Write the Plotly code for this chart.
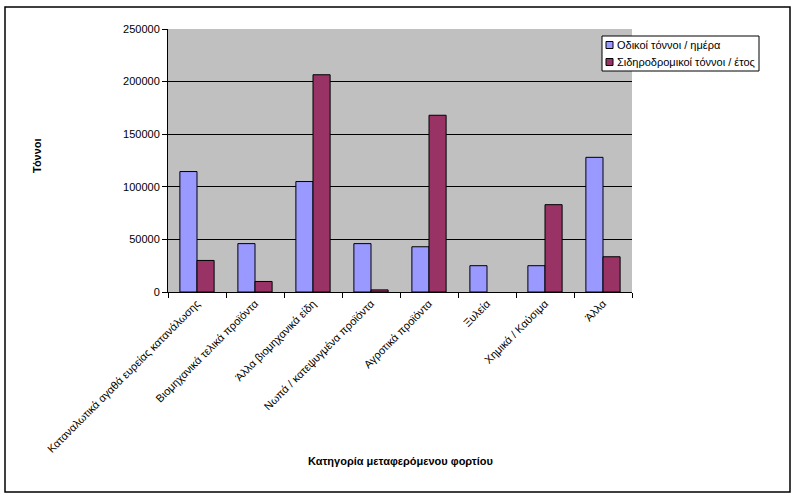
import plotly.graph_objects as go

# cargo categories and tonnage
categories = [
    "Καταναλωτικά αγαθά ευρείας κατανάλωσης",
    "Βιομηχανικά τελικά προϊόντα",
    "Άλλα βιομηχανικά είδη",
    "Νωπά / κατεψυγμένα προϊόντα",
    "Αγροτικά προϊόντα",
    "Ξυλεία",
    "Χημικά / Καύσιμα",
    "Άλλα",
]
road_tons = [114500, 46000, 105000, 46000, 43000, 25000, 25000, 128000]
rail_tons = [30000, 10000, 206500, 2000, 168000, None, 83000, 33500]
series_names = ["Οδικοί τόννοι / ημέρα", "Σιδηροδρομικοί τόννοι / έτος"]
series_colors = ["#9999FF", "#993366"]

FONT = "Liberation Sans, Arial, sans-serif"

fig = go.Figure()
for vals, name, col in zip([road_tons, rail_tons], series_names, series_colors):
    fig.add_trace(go.Bar(
        x=categories, y=vals, name=name,
        marker=dict(color=col, line=dict(color="black", width=1)),
    ))

# plot area is 168..632 px wide, 29..292 px tall
W, H = 797, 497
L, R, T, B = 168, 632, 29, 292
pw, ph = R - L, B - T


def px_x(v):
    return (v - L) / pw


def px_y(v):
    return (B - v) / ph


fig.update_layout(
    width=W, height=H,
    margin=dict(l=L, r=W - R, t=T, b=H - B),
    paper_bgcolor="white",
    plot_bgcolor="#C0C0C0",
    barmode="group",
    bargap=0.41,
    bargroupgap=0,
    font=dict(family=FONT, size=11, color="black"),
    showlegend=False,
    xaxis=dict(
        tickangle=-45, tickson="boundaries", ticks="outside", ticklen=5,
        tickcolor="black", showline=True, linecolor="black", linewidth=1,
        showgrid=False, tickfont=dict(size=11),
    ),
    yaxis=dict(
        range=[0, 250000], dtick=50000, ticks="outside", ticklen=5,
        tickcolor="black", showline=True, linecolor="black", linewidth=1,
        showgrid=True, gridcolor="black", gridwidth=1, zeroline=False,
        tickformat="d", tickfont=dict(size=11),
    ),
)

# legend drawn by hand (small square keys like the original)
fig.add_shape(
    type="rect", xref="paper", yref="paper",
    x0=px_x(602), x1=px_x(759), y0=px_y(71), y1=px_y(36),
    line=dict(color="black", width=1), fillcolor="white",
)
for i, (name, col) in enumerate(zip(series_names, series_colors)):
    cy = 45 + i * 17
    fig.add_shape(
        type="rect", xref="paper", yref="paper",
        x0=px_x(606), x1=px_x(613), y0=px_y(cy + 3.5), y1=px_y(cy - 3.5),
        line=dict(color="black", width=1), fillcolor=col,
    )
    fig.add_annotation(
        text=name, xref="paper", yref="paper", x=px_x(615), y=px_y(cy),
        xanchor="left", yanchor="middle", showarrow=False, font=dict(size=11),
    )

# axis titles
fig.add_annotation(
    text="<b>Τόννοι</b>", xref="paper", yref="paper",
    x=px_x(29), y=px_y(156), showarrow=False, textangle=-90,
    font=dict(size=11),
)
fig.add_annotation(
    text="<b>Κατηγορία μεταφερόμενου φορτίου</b>", xref="paper", yref="paper",
    x=px_x(400), y=px_y(469), showarrow=False, font=dict(size=11),
)

# outer frame
fig.add_shape(
    type="rect", xref="paper", yref="paper",
    x0=px_x(5), x1=px_x(790), y0=px_y(492), y1=px_y(7),
    line=dict(color="black", width=1.5), fillcolor="rgba(0,0,0,0)", layer="below",
)

fig.write_html(
    "out.html",
    config={"displayModeBar": False},
    post_script="document.body.style.margin='0';",
)
